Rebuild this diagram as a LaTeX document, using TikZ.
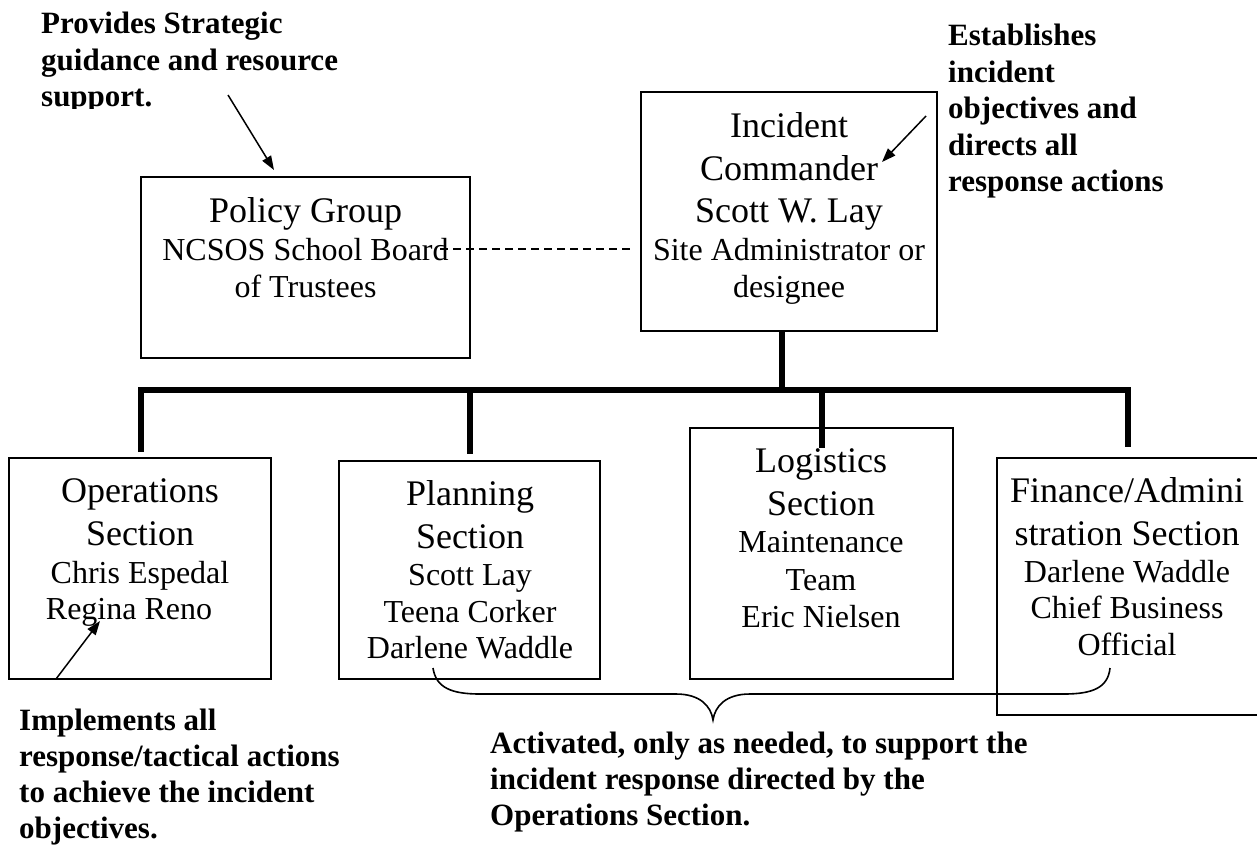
\documentclass[tikz,border=0pt]{standalone}
\usepackage{fontspec}
\setmainfont{Liberation Serif}
\usetikzlibrary{arrows.meta}
\begin{document}
\begin{tikzpicture}[x=1pt,y=-1pt,
  box/.style={draw, line width=1.8pt, inner sep=0pt},
  title/.style={anchor=base, inner sep=0pt, font=\fontsize{36}{41}\selectfont},
  small/.style={anchor=base, inner sep=0pt, font=\fontsize{32}{37}\selectfont},
  note/.style={anchor=base west, inner sep=0pt, font=\fontsize{31}{36}\selectfont\bfseries},
  trunk/.style={line width=5.5pt, line join=miter},
  pointer/.style={line width=1.5pt, -{Triangle[length=14pt,width=10pt]}},
  link/.style={line width=1.5pt, dash pattern=on 8pt off 5pt},
  bracket/.style={line width=1.6pt},
]
\useasboundingbox (0,0) rectangle (1257,844);

% ---- boxes ----
\node[box, minimum width=329pt, minimum height=181pt] (policy) at (305.5,267.5) {};
\node[box, minimum width=296pt, minimum height=239pt] (ic)     at (789,211.5) {};
\node[box, minimum width=262pt, minimum height=221pt] (ops)    at (140,568.5) {};
\node[box, minimum width=261pt, minimum height=218pt] (plan)   at (469.5,570) {};
\node[box, minimum width=263pt, minimum height=251pt] (log)    at (821.5,553.5) {};
\node[box, minimum width=262pt, minimum height=257pt] (fin)    at (1128,586.5) {};

% ---- box texts ----
\node[title] (pol1) at (305.5,222) {Policy Group};
\node[small] (pol2) at (305.5,260) {NCSOS School Board};
\node[small] (pol3) at (305.5,297) {of Trustees};

\node[title] (ic1) at (789,137) {Incident};
\node[title] (ic2) at (789,180) {Commander};
\node[title] (ic3) at (789,222) {Scott W. Lay};
\node[small] (ic4) at (789,260) {Site Administrator or};
\node[small] (ic5) at (789,297) {designee};

\node[title] (ops1) at (140,502) {Operations};
\node[title] (ops2) at (140,545) {Section};
\node[small] (ops3) at (140,583) {Chris Espedal};
\node[small] (ops4) at (129,619) {Regina Reno};

\node[title] (pl1) at (470,505) {Planning};
\node[title] (pl2) at (470,548) {Section};
\node[small] (pl3) at (470,585) {Scott Lay};
\node[small] (pl4) at (470,622) {Teena Corker};
\node[small] (pl5) at (470,658) {Darlene Waddle};

\node[title] (lg1) at (821,472) {Logistics};
\node[title] (lg2) at (821,515) {Section};
\node[small] (lg3) at (821,552) {Maintenance};
\node[small] (lg4) at (821,590) {Team};
\node[small] (lg5) at (821,627) {Eric Nielsen};

\node[title] (fn1) at (1127,502) {Finance/Admini};
\node[title] (fn2) at (1127,545) {stration Section};
\node[small] (fn3) at (1127,582) {Darlene Waddle};
\node[small] (fn4) at (1127,618) {Chief Business};
\node[small] (fn5) at (1127,655) {Official};

% ---- organisation lines ----
\coordinate (stemT) at (782,331);
\coordinate (barL)  at (141,390);
\coordinate (barR)  at (1128,390);
\coordinate (opsT)  at (141,452);
\coordinate (plT)   at (470,454);
\coordinate (lgT)   at (822,448);
\coordinate (fnT)   at (1128,447);
\draw[trunk] (stemT) -- (stemT |- barL);
\draw[trunk] (opsT) -- (barL) -- (barR) -- (fnT);
\draw[trunk] (plT |- barL) -- (plT);
\draw[trunk] (lgT |- barL) -- (lgT);

% dashed advisory link
\coordinate (dashL) at (440,249);
\coordinate (dashR) at (630,249);
\draw[link] (dashL) -- (dashR);

% ---- annotations ----
\begin{scope}
  \clip (0,0) rectangle (620,108);
  \node[note] (n1a) at (41,33)  {Provides Strategic};
  \node[note] (n1b) at (41,70)  {guidance and resource};
  \node[note] (n1c) at (41,106) {support.};
\end{scope}
\coordinate (a1t) at (228,95);
\coordinate (a1h) at (274,170);
\draw[pointer] (a1t) -- (a1h);

\node[note] (n2a) at (948,45)  {Establishes};
\node[note] (n2b) at (948,82)  {incident};
\node[note] (n2c) at (948,118) {objectives and};
\node[note] (n2d) at (948,155) {directs all};
\node[note] (n2e) at (948,191) {response actions};
\coordinate (a2t) at (926,116);
\coordinate (a2h) at (882,162);
\draw[pointer] (a2t) -- (a2h);

\node[note] (n3a) at (19,730) {Implements all};
\node[note] (n3b) at (19,766) {response/tactical actions};
\node[note] (n3c) at (19,802) {to achieve the incident};
\node[note] (n3d) at (19,838) {objectives.};
\coordinate (a3t) at (56,679);
\coordinate (a3h) at (100,621);
\draw[pointer] (a3t) -- (a3h);

\node[note] (n4a) at (490,753) {Activated, only as needed, to support the};
\node[note] (n4b) at (490,789) {incident response directed by the};
\node[note] (n4c) at (490,825) {Operations Section.};

% brace gathering the support sections
\coordinate (brL) at (433,668);
\coordinate (brM) at (713,720);
\coordinate (brR) at (1110,668);
\draw[bracket] (brL) .. controls (436,688) and (452,694) .. (480,694) -- (676,694)
  .. controls (700,694) and (711,706) .. (brM)
  .. controls (715,706) and (726,694) .. (750,694) -- (1064,694)
  .. controls (1092,694) and (1108,688) .. (brR);
\end{tikzpicture}
\end{document}
